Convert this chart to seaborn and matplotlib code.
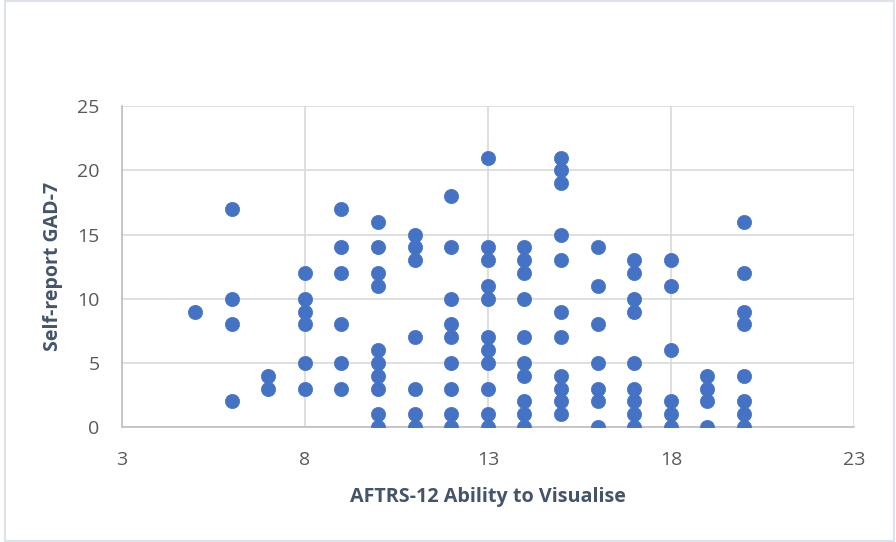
import matplotlib
matplotlib.use('Agg')
import matplotlib.pyplot as plt
import seaborn as sns
import pandas as pd
from matplotlib.patches import Rectangle

# AFTRS-12 score (x) and self-report GAD-7 (y), one entry per participant
ability = ([5] + [6] * 4 + [7] * 2 + [8] * 6 + [9] * 6 + [10] * 10 + [11] * 7
           + [12] * 9 + [13] * 11 + [14] * 10 + [15] * 11 + [16] * 7 + [17] * 9
           + [18] * 6 + [19] * 4 + [20] * 8)
gad7 = ([9]
        + [17, 10, 8, 2]
        + [4, 3]
        + [12, 10, 9, 8, 5, 3]
        + [17, 14, 12, 8, 5, 3]
        + [16, 14, 12, 11, 6, 5, 4, 3, 1, 0]
        + [15, 14, 13, 7, 3, 1, 0]
        + [18, 14, 10, 8, 7, 5, 3, 1, 0]
        + [21, 14, 13, 11, 10, 7, 6, 5, 3, 1, 0]
        + [14, 13, 12, 10, 7, 5, 4, 2, 1, 0]
        + [21, 20, 19, 15, 13, 9, 7, 4, 3, 2, 1]
        + [14, 11, 8, 5, 3, 2, 0]
        + [13, 12, 10, 9, 5, 3, 2, 1, 0]
        + [13, 11, 6, 2, 1, 0]
        + [4, 3, 2, 0]
        + [16, 12, 9, 8, 4, 2, 1, 0])

x_ticks = [3, 8, 13, 18, 23]
y_ticks = [0, 5, 10, 15, 20, 25]

df = pd.DataFrame({'ability': ability, 'gad7': gad7})

sns.set_style('white')
plt.rcParams['font.family'] = ['Open Sans', 'DejaVu Sans']

fig = plt.figure(figsize=(8.96, 5.42), dpi=100)
ax = fig.add_axes([0.136, 0.212, 0.817, 0.592])

sns.scatterplot(data=df, x='ability', y='gad7', ax=ax, s=105, color='#4472C4',
                edgecolor='#4472C4', linewidth=0.5, zorder=3)

ax.set_xlim(3, 23)
ax.set_ylim(0, 25)
ax.set_xticks(x_ticks)
ax.set_yticks(y_ticks)
ax.grid(True, color='#D9D9D9', linewidth=1.2, zorder=0)
ax.set_axisbelow(True)
for side in ['top', 'right']:
    ax.spines[side].set_visible(False)
for side in ['left', 'bottom']:
    ax.spines[side].set_color('#BFBFBF')
    ax.spines[side].set_linewidth(1.2)
ax.tick_params(axis='both', length=0, labelsize=14, labelcolor='#595959')
ax.tick_params(axis='y', pad=16)
ax.tick_params(axis='x', pad=17)

ax.set_xlabel('AFTRS-12 Ability to Visualise', fontsize=14.2, fontweight='bold',
              color='#44546A', labelpad=13)
ax.set_ylabel('Self-report GAD-7', fontsize=14, fontweight='bold',
              color='#44546A', labelpad=10)

# outer chart frame
fig.patches.append(Rectangle((0.0055, 0.002), 0.992, 0.996, transform=fig.transFigure,
                             fill=False, edgecolor='#DEE2EA', linewidth=1.5))

fig.savefig('out.png', dpi=100)
plt.close(fig)
